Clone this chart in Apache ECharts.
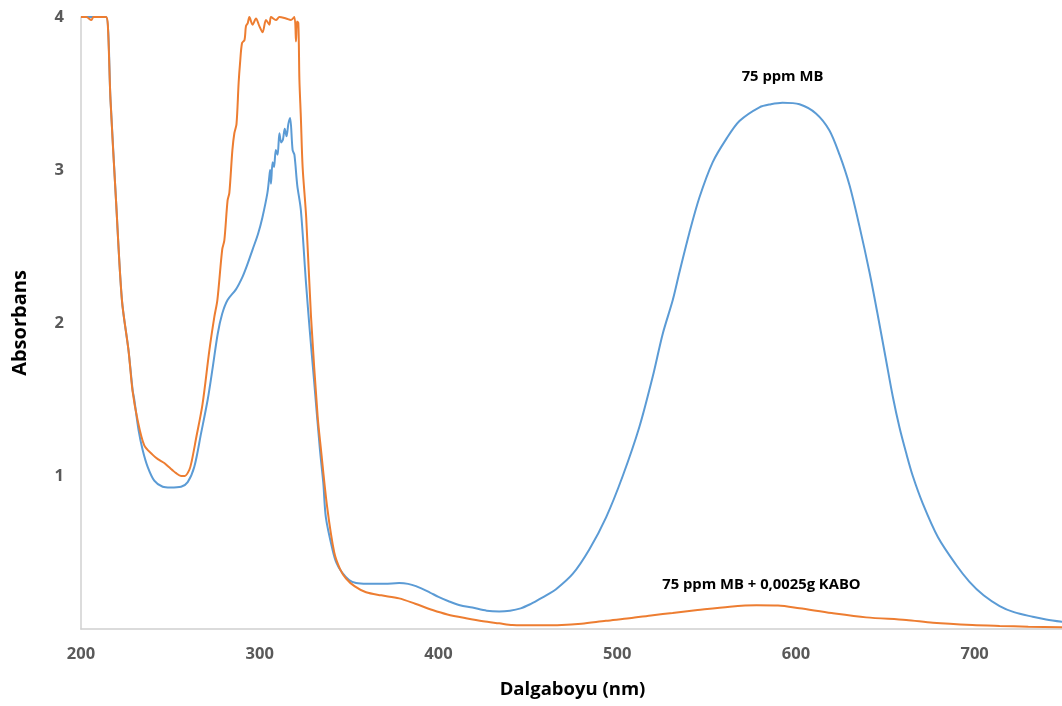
<!DOCTYPE html>
<html>
<head>
<meta charset="utf-8">
<title>Absorbans spektrumu</title>
<script src="https://cdn.jsdelivr.net/npm/echarts@6/dist/echarts.min.js"></script>
<style>
  html, body { margin: 0; padding: 0; background: #ffffff; }
  #chart { width: 1062px; height: 706px; }
</style>
</head>
<body>
<div id="chart"></div>
<script>
// 75 ppm MB spectrum (wavelength in nm, absorbance)
const mbWavelength = [200, 205, 210, 214, 216.5, 219.6, 222.9, 226.6, 228.9, 229.8, 232.2, 234.5, 237.3, 241, 245.7, 250, 256, 259.7, 263.4, 267.2, 270.9, 273.7, 276.5, 279, 282, 286.7, 290.3, 293, 296, 299, 301.5, 304.3, 305.3, 305.8, 306.3, 307.2, 308, 309, 310, 311, 312, 313, 314, 315, 316, 317, 318.4, 319.4, 321, 323, 325.9, 328, 330.5, 333.7, 335.6, 337, 340.7, 343, 346, 350, 353.9, 360, 370, 378, 383, 387.4, 395, 400, 406, 412, 419, 427, 434, 440, 446, 451, 456.5, 461, 465.8, 475.1, 484.4, 493.8, 503.1, 512.4, 519.9, 525.5, 531.1, 534.8, 540.4, 546, 553.4, 560.9, 568.4, 579.6, 586, 592.5, 602, 611.2, 618.7, 624.4, 630, 635.6, 641.2, 645.5, 650.4, 654.2, 657.9, 661.7, 665.4, 671, 679.5, 689.6, 697, 705, 714, 722, 732.5, 740, 750];
const mbAbsorbance = [4, 4, 4, 4, 3.46, 2.8, 2.15, 1.82, 1.56, 1.5, 1.3, 1.17, 1.06, 0.97, 0.93, 0.925, 0.93, 0.96, 1.06, 1.28, 1.5, 1.71, 1.93, 2.06, 2.15, 2.22, 2.3, 2.38, 2.48, 2.58, 2.69, 2.85, 2.95, 3.0, 2.91, 3.05, 3.02, 3.13, 3.1, 3.24, 3.18, 3.2, 3.27, 3.22, 3.3, 3.34, 3.13, 3.1, 2.9, 2.74, 2.26, 1.95, 1.61, 1.17, 0.95, 0.73, 0.52, 0.43, 0.37, 0.32, 0.3, 0.295, 0.295, 0.3, 0.295, 0.28, 0.24, 0.21, 0.18, 0.155, 0.14, 0.12, 0.115, 0.12, 0.135, 0.16, 0.195, 0.225, 0.26, 0.36, 0.52, 0.73, 1.0, 1.32, 1.65, 1.93, 2.15, 2.33, 2.59, 2.82, 3.05, 3.2, 3.32, 3.41, 3.43, 3.44, 3.43, 3.37, 3.26, 3.1, 2.9, 2.63, 2.33, 2.07, 1.76, 1.52, 1.32, 1.15, 1.0, 0.82, 0.6, 0.42, 0.31, 0.22, 0.15, 0.11, 0.08, 0.062, 0.045];

// 75 ppm MB + 0,0025g KABO spectrum
const kaboWavelength = [200, 203, 205.8, 207, 210, 214, 215, 216.5, 219.6, 222.9, 226.6, 228.8, 231.6, 235.4, 240, 243, 246.6, 249, 251, 253, 256, 258, 260.6, 262, 264.3, 268, 271.8, 274.6, 276.3, 279, 280.2, 282, 283, 284.7, 285.8, 287, 288.2, 289, 290.1, 291.5, 292.3, 293.3, 294.2, 296, 297.9, 299.8, 301.6, 303.5, 305.4, 306.3, 309.1, 311, 314.7, 317.5, 319.4, 320.3, 320.8, 321.6, 322.2, 323, 324, 326, 328.7, 332.4, 334.3, 337.7, 341.7, 345, 348.3, 353, 359.5, 368, 378, 387, 396.7, 405, 415.4, 425, 434, 441.4, 455, 469, 480, 493.7, 506.8, 520, 531, 545, 563, 578, 590, 602, 620, 639.3, 661.7, 676.7, 698.8, 714, 730, 750];
const kaboAbsorbance = [4, 4, 3.98, 4, 4, 4, 3.95, 3.46, 2.8, 2.15, 1.82, 1.56, 1.37, 1.2, 1.14, 1.11, 1.085, 1.06, 1.04, 1.02, 1.0, 1.0, 1.04, 1.1, 1.24, 1.47, 1.82, 2.04, 2.15, 2.48, 2.54, 2.8, 2.85, 3.13, 3.24, 3.3, 3.57, 3.7, 3.83, 3.85, 3.94, 3.96, 4.0, 3.95, 3.99, 3.94, 3.9, 3.98, 3.95, 4.0, 3.98, 4.0, 3.99, 3.98, 4.0, 3.84, 3.97, 3.96, 3.59, 3.35, 3.02, 2.69, 2.04, 1.39, 1.17, 0.8, 0.5, 0.39, 0.33, 0.28, 0.24, 0.22, 0.2, 0.165, 0.124, 0.095, 0.07, 0.05, 0.037, 0.026, 0.024, 0.026, 0.035, 0.054, 0.07, 0.09, 0.105, 0.124, 0.146, 0.155, 0.153, 0.135, 0.104, 0.076, 0.059, 0.041, 0.026, 0.02, 0.015, 0.011];

// Axis ticks
const xTicks = { min: 200, max: 750, step: 100 };
const yTicks = { min: 0, max: 4, step: 1 };

// Curve captions, anchored in data coordinates
const mbCaption = { text: '75 ppm MB', at: [592.5, 3.61] };
const kaboCaption = { text: '75 ppm MB + 0,0025g KABO', at: [580.7, 0.29] };

const pairs = (xs, ys) => xs.map((x, i) => [x, ys[i]]);

const FONT = '"Open Sans", "Noto Sans", sans-serif';
const axisGrey = '#d0d0d0';

// An invisible anchor point carrying the caption text
const captionPoint = (c) => ({
  symbol: 'circle',
  symbolSize: 1,
  silent: true,
  itemStyle: { color: 'rgba(0,0,0,0)' },
  data: [{
    coord: c.at,
    value: c.text,
    label: {
      show: true,
      position: 'inside',
      formatter: c.text,
      color: '#000000',
      fontFamily: FONT,
      fontWeight: 'bold',
      fontSize: 14.8
    }
  }]
});

const chart = echarts.init(document.getElementById('chart'), null, { renderer: 'canvas' });

chart.setOption({
  animation: false,
  backgroundColor: '#ffffff',
  grid: {
    left: 81,
    right: -2,
    top: 17,
    bottom: 77,
    containLabel: false,
    outerBoundsMode: 'none'
  },
  xAxis: {
    type: 'value',
    min: xTicks.min,
    max: xTicks.max,
    interval: xTicks.step,
    name: 'Dalgaboyu (nm)',
    nameLocation: 'middle',
    nameGap: 51,
    nameTextStyle: { color: '#000000', fontFamily: FONT, fontWeight: 'bold', fontSize: 18.5 },
    axisLine: { show: true, lineStyle: { color: axisGrey, width: 1.5 } },
    axisTick: { show: false },
    splitLine: { show: false },
    axisLabel: {
      showMaxLabel: false,
      margin: 17,
      color: '#595959',
      fontFamily: FONT,
      fontWeight: 'bold',
      fontSize: 16.5
    }
  },
  yAxis: {
    type: 'value',
    min: yTicks.min,
    max: yTicks.max,
    interval: yTicks.step,
    name: 'Absorbans',
    nameLocation: 'middle',
    nameGap: 51,
    nameTextStyle: { color: '#000000', fontFamily: FONT, fontWeight: 'bold', fontSize: 20 },
    axisLine: { show: true, lineStyle: { color: axisGrey, width: 1.5 } },
    axisTick: { show: false },
    splitLine: { show: false },
    axisLabel: {
      margin: 17,
      color: '#595959',
      fontFamily: FONT,
      fontWeight: 'bold',
      fontSize: 16.5,
      formatter: (v) => (v === 0 ? '' : String(v))
    }
  },
  series: [
    {
      name: '75 ppm MB',
      type: 'line',
      data: pairs(mbWavelength, mbAbsorbance),
      showSymbol: false,
      smooth: 0.3,
      clip: true,
      lineStyle: { color: '#5B9BD5', width: 2 },
      itemStyle: { color: '#5B9BD5' },
      markPoint: captionPoint(mbCaption),
      z: 2
    },
    {
      name: '75 ppm MB + 0,0025g KABO',
      type: 'line',
      data: pairs(kaboWavelength, kaboAbsorbance),
      showSymbol: false,
      smooth: 0.3,
      clip: true,
      lineStyle: { color: '#ED7D31', width: 2 },
      itemStyle: { color: '#ED7D31' },
      markPoint: captionPoint(kaboCaption),
      z: 3
    }
  ]
});
</script>
</body>
</html>
